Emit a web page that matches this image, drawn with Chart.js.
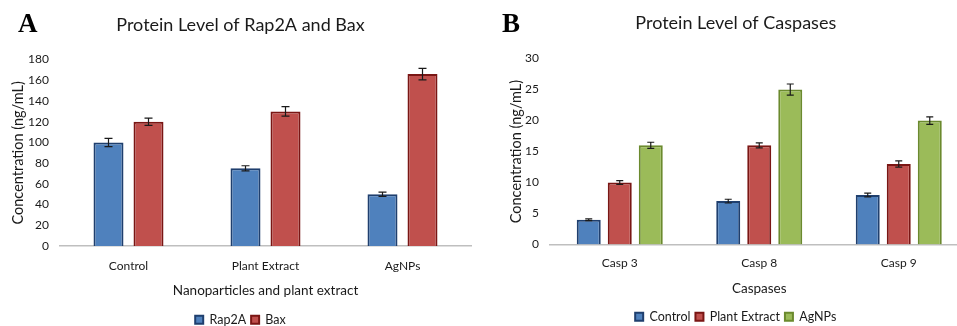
<!DOCTYPE html>
<html>
<head>
<meta charset="utf-8">
<script src="https://cdn.jsdelivr.net/npm/chart.js@4.4.0/dist/chart.umd.min.js"></script>
<style>
  html, body { margin: 0; padding: 0; background: #fff; overflow: hidden; }
  body { width: 957px; height: 326px; position: relative; }
  .panel { position: absolute; top: 0; height: 326px; }
  #panelA { left: 0; width: 480px; }
  #panelB { left: 480px; width: 512px; }
  .tag { position: absolute; top: 10px; font-family: "Liberation Serif", serif; font-weight: bold; font-size: 27px; line-height: 1; color: #000; }
</style>
</head>
<body>
<div class="panel" id="panelA">
  <div class="tag" style="left:18px">A</div>
  <canvas id="chartA"></canvas>
</div>
<div class="panel" id="panelB">
  <div class="tag" style="left:22px">B</div>
  <canvas id="chartB"></canvas>
</div>
<script>
// Panel A: Rap2A and Bax
const groupsA = ['Control', 'Plant Extract', 'AgNPs'];
const rap2aValues = [100, 75, 50];
const rap2aErrors = [4, 2.5, 2];
const baxValues = [120, 130, 166];
const baxErrors = [3.5, 4.5, 5.5];
const ticksA = [0, 180, 20]; // min, max, step

// Panel B: caspases
const groupsB = ['Casp 3', 'Casp 8', 'Casp 9'];
const controlValues = [4, 7, 8];
const controlErrors = [0.15, 0.3, 0.3];
const plantValues = [10, 16, 13];
const plantErrors = [0.3, 0.4, 0.5];
const agnpValues = [16, 25, 20];
const agnpErrors = [0.5, 0.9, 0.6];
const ticksB = [0, 30, 5];

Chart.defaults.font.family = 'Lato';
Chart.defaults.color = '#1a1a1a';

const blue = '#4f81bd', blueEdge = '#1f3f6e';
const red = '#c0504d', redEdge = '#7a1614';
const green = '#9bbb59', greenEdge = '#6b8a2e';

// draws the +/- error whiskers on top of each bar
const errorBars = {
  id: 'errorBars',
  afterDatasetsDraw(chart, args, opts) {
    const ctx = chart.ctx;
    const y = chart.scales.y;
    const cap = opts.cap || 4;
    ctx.save();
    ctx.strokeStyle = '#1a1a1a';
    ctx.lineWidth = 1.2;
    chart.data.datasets.forEach((ds, i) => {
      chart.getDatasetMeta(i).data.forEach((bar, j) => {
        const v = ds.data[j], e = ds.errors[j];
        const top = y.getPixelForValue(v + e);
        const bot = y.getPixelForValue(v - e);
        ctx.beginPath();
        ctx.moveTo(bar.x, top); ctx.lineTo(bar.x, bot);
        ctx.moveTo(bar.x - cap, top); ctx.lineTo(bar.x + cap, top);
        ctx.moveTo(bar.x - cap, bot); ctx.lineTo(bar.x + cap, bot);
        ctx.stroke();
      });
    });
    ctx.restore();
  }
};

function makeOptions(cfg) {
  return {
    responsive: true,
    maintainAspectRatio: false,
    animation: false,
    layout: { padding: cfg.padding },
    plugins: {
      title: {
        display: true,
        text: cfg.title,
        font: { size: 18, weight: 'normal' },
        padding: cfg.titlePad
      },
      legend: {
        position: 'bottom',
        labels: { boxWidth: 8, boxHeight: 8, padding: 5, font: { size: 12.5 } }
      },
      tooltip: { enabled: false },
      errorBars: { cap: cfg.cap }
    },
    scales: {
      x: {
        grid: { display: false, drawTicks: false },
        border: { color: '#bfbfbf', width: 1.5 },
        ticks: { padding: cfg.xTickPad, font: { size: 12 } },
        title: { display: true, text: cfg.xTitle, font: { size: 13.5 }, padding: { top: 0, bottom: cfg.xTitlePad } },
        afterFit(scale) { scale.height = cfg.xHeight; }
      },
      y: {
        min: cfg.ticks[0],
        max: cfg.ticks[1],
        ticks: { stepSize: cfg.ticks[2], padding: cfg.yTickPad, font: { size: 12 } },
        grid: { display: false, drawTicks: false },
        border: { display: false },
        title: { display: true, text: 'Concentration (ng/mL)', font: { size: 14.5 }, padding: { top: cfg.yTitlePad, bottom: 0 } },
        afterFit(scale) { scale.width = cfg.yWidth; }
      }
    }
  };
}

new Chart(document.getElementById('chartA'), {
  type: 'bar',
  data: {
    labels: groupsA,
    datasets: [
      { label: 'Rap2A', data: rap2aValues, errors: rap2aErrors, backgroundColor: blue, borderColor: blueEdge, borderWidth: 2, categoryPercentage: 0.584, barPercentage: 0.75 },
      { label: 'Bax', data: baxValues, errors: baxErrors, backgroundColor: red, borderColor: redEdge, borderWidth: 2, categoryPercentage: 0.584, barPercentage: 0.75 }
    ]
  },
  options: makeOptions({
    title: 'Protein Level of Rap2A and Bax',
    padding: { left: 10, right: 9, top: 0, bottom: -10 },
    titlePad: { top: 14, bottom: 24 },
    xTitle: 'Nanoparticles and plant extract',
    xHeight: 62.5, xTickPad: 12.5, xTitlePad: 10,
    yWidth: 50, yTickPad: 11, yTitlePad: 0,
    ticks: ticksA, cap: 4
  }),
  plugins: [errorBars]
});

new Chart(document.getElementById('chartB'), {
  type: 'bar',
  data: {
    labels: groupsB,
    datasets: [
      { label: 'Control', data: controlValues, errors: controlErrors, backgroundColor: blue, borderColor: blueEdge, borderWidth: 2, categoryPercentage: 0.667, barPercentage: 0.774 },
      { label: 'Plant Extract', data: plantValues, errors: plantErrors, backgroundColor: red, borderColor: redEdge, borderWidth: 2, categoryPercentage: 0.667, barPercentage: 0.774 },
      { label: 'AgNPs', data: agnpValues, errors: agnpErrors, backgroundColor: green, borderColor: greenEdge, borderWidth: 2, categoryPercentage: 0.667, barPercentage: 0.774 }
    ]
  },
  options: makeOptions({
    title: 'Protein Level of Caspases',
    padding: { left: 23, right: 23.5, top: 0, bottom: -7 },
    titlePad: { top: 12.5, bottom: 24.5 },
    xTitle: 'Caspases',
    xHeight: 61, xTickPad: 11.5, xTitlePad: 9,
    yWidth: 47, yTickPad: 11, yTitlePad: 5,
    ticks: ticksB, cap: 3.5
  }),
  plugins: [errorBars]
});
</script>
</body>
</html>
